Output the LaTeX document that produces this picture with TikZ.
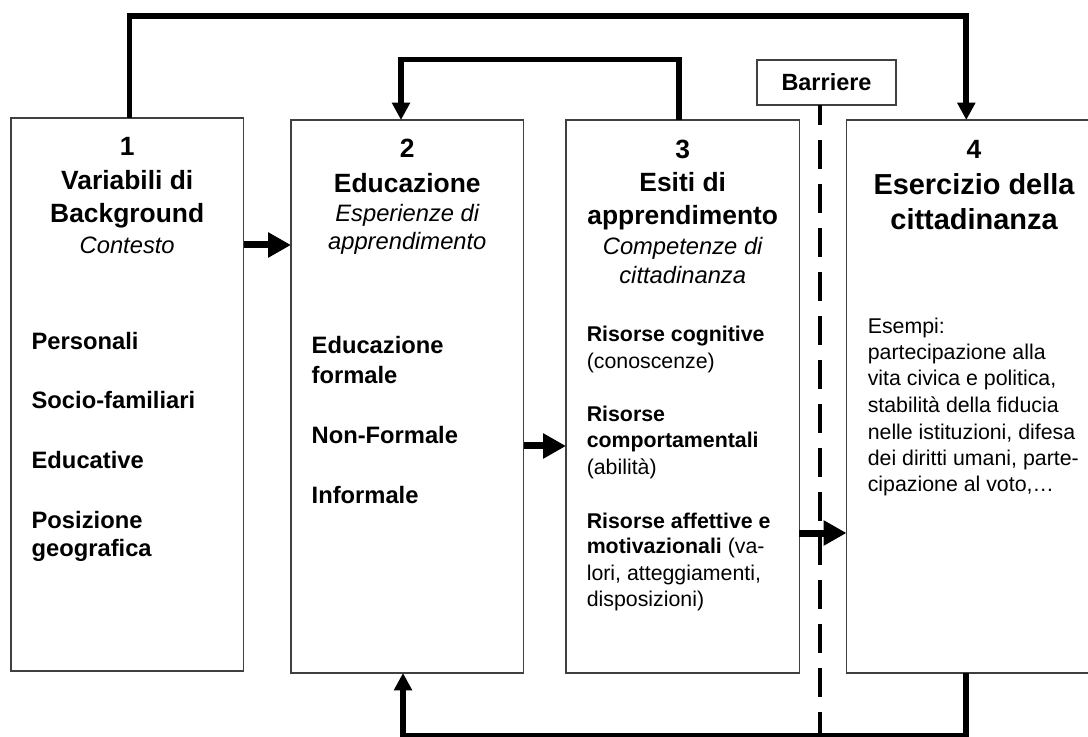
\documentclass[tikz,border=0pt]{standalone}
\usepackage{fontspec}
\setmainfont{Liberation Sans}
\usetikzlibrary{arrows.meta}
\definecolor{boxgray}{HTML}{404040}

\begin{document}
\begin{tikzpicture}[x=0.75pt, y=-0.75pt,
  box/.style={draw=boxgray, line width=1.2pt, fill=white, inner sep=0pt,
              outer sep=0pt, anchor=north west},
  ttl/.style={font=\fontsize{19.8pt}{24pt}\selectfont\bfseries, anchor=base, inner sep=0pt},
  ttlbig/.style={font=\fontsize{21.7pt}{26pt}\selectfont\bfseries, anchor=base, inner sep=0pt},
  sub/.style={font=\fontsize{17.8pt}{21pt}\selectfont\itshape, anchor=base, inner sep=0pt},
  item/.style={font=\fontsize{17.8pt}{21pt}\selectfont\bfseries, anchor=base west, inner sep=0pt},
  body/.style={font=\fontsize{16pt}{20pt}\selectfont, anchor=base west, inner sep=0pt},
  link/.style={line width=4.3pt, line join=miter, -{Triangle[length=13pt, width=13pt]}},
  flow/.style={line width=5.25pt, -{Triangle[length=17.25pt, width=18pt]}},
  barrier/.style={line width=2.5pt, dash pattern=on 21.75pt off 11.25pt, dash phase=6.75pt}
]
\useasboundingbox (0,0) rectangle (1088,737);
\clip (0,0) rectangle (1088,737);
\fill[white] (0,0) rectangle (1088,737);

% the four stages
\node[box, minimum width=174.7pt, minimum height=414.75pt] (b1) at (10.7,118) {};
\node[box, minimum width=174.45pt, minimum height=414.75pt] (b2) at (291,120) {};
\node[box, minimum width=175.05pt, minimum height=414.75pt] (b3) at (566,120) {};
\node[box, minimum width=191.25pt, minimum height=414.75pt] (b4) at (846.5,120) {};

% barrier label and dashed separator
\node[box, minimum width=104.25pt, minimum height=33.75pt,
      font=\fontsize{17.6pt}{21pt}\selectfont\bfseries] (bar) at (757,60) {Barriere};
\coordinate (dend) at (820,742);
\draw[barrier] (bar.south -| dend) -- (dend);

% stage 1
\node[ttl] (n1) at (127.2,156) {1};
\node[ttl] (t1a) at (127.2,190) {Variabili di};
\node[ttl] (t1b) at (127.2,222.7) {Background};
\node[sub] (s1) at (127.2,254) {Contesto};
\node[item] (i1a) at (31.4,350) {Personali};
\node[item] (i1b) at (31.4,408.3) {Socio-familiari};
\node[item] (i1c) at (31.4,468.3) {Educative};
\node[item] (i1d) at (31.4,528.3) {Posizione};
\node[item] (i1e) at (31.4,556.7) {geografica};

% stage 2
\node[ttl] (n2) at (407.3,157.3) {2};
\node[ttl] (t2) at (407.3,192.7) {Educazione};
\node[sub] (s2a) at (407.3,221.7) {Esperienze di};
\node[sub] (s2b) at (407.3,250) {apprendimento};
\node[item] (i2a) at (311.4,354) {Educazione};
\node[item] (i2b) at (311.4,383.3) {formale};
\node[item] (i2c) at (311.4,443.3) {Non-Formale};
\node[item] (i2d) at (311.4,503.3) {Informale};

% stage 3
\node[ttl] (n3) at (682.7,158.3) {3};
\node[ttl] (t3a) at (682.7,191.7) {Esiti di};
\node[ttl] (t3b) at (682.7,224.5) {apprendimento};
\node[sub] (s3a) at (682.7,255) {Competenze di};
\node[sub] (s3b) at (682.7,283.3) {cittadinanza};
\node[body] (r1a) at (586.5,341.7) {\bfseries Risorse cognitive};
\node[body] (r1b) at (586.5,368.3) {(conoscenze)};
\node[body] (r2a) at (586.5,421.7) {\bfseries Risorse};
\node[body] (r2b) at (586.5,447.3) {\bfseries comportamentali};
\node[body] (r2c) at (586.5,474.3) {(abilità)};
\node[body] (r3a) at (586.5,528.3) {\bfseries Risorse affettive e};
\node[body] (r3b) at (586.5,553.3) {\textbf{motivazionali} (va-};
\node[body] (r3c) at (586.5,580) {lori, atteggiamenti,};
\node[body] (r3d) at (586.5,606) {disposizioni)};

% stage 4
\node[ttl] (n4) at (974,158.3) {4};
\node[ttlbig] (t4a) at (974,195) {Esercizio della};
\node[ttlbig] (t4b) at (974,230) {cittadinanza};
\node[body] (e1) at (867.5,333.3) {Esempi:};
\node[body] (e2) at (867.5,359.3) {partecipazione alla};
\node[body] (e3) at (867.5,386) {vita civica e politica,};
\node[body] (e4) at (867.5,412.7) {stabilità della fiducia};
\node[body] (e5) at (867.5,439.3) {nelle istituzioni, difesa};
\node[body] (e6) at (867.5,465.7) {dei diritti umani, parte-};
\node[body] (e7) at (867.5,491.7) {cipazione al voto,…};

% forward flow between stages
\coordinate (y12) at (0,245);
\coordinate (y23) at (0,446);
\coordinate (y34) at (0,533);
\draw[flow] (b1.east |- y12) -- (b2.west |- y12);
\draw[flow] (b2.east |- y23) -- (b3.west |- y23);
\draw[flow] (b3.east |- y34) -- (b4.west |- y34);

% feedback loops
\coordinate (xa) at (129.5,16);
\coordinate (xb) at (966.3,16);
\draw[link] (b1.north -| xa) |- (xb) -- (b4.north -| xb);
\coordinate (xc) at (679,59.5);
\coordinate (xd) at (401,59.5);
\draw[link] (b3.north -| xc) |- (xd) -- (b2.north -| xd);
\coordinate (xe) at (966,735.5);
\coordinate (xf) at (403,735.5);
\draw[link] (b4.south -| xe) |- (xf) -- (b2.south -| xf);
\end{tikzpicture}
\end{document}
